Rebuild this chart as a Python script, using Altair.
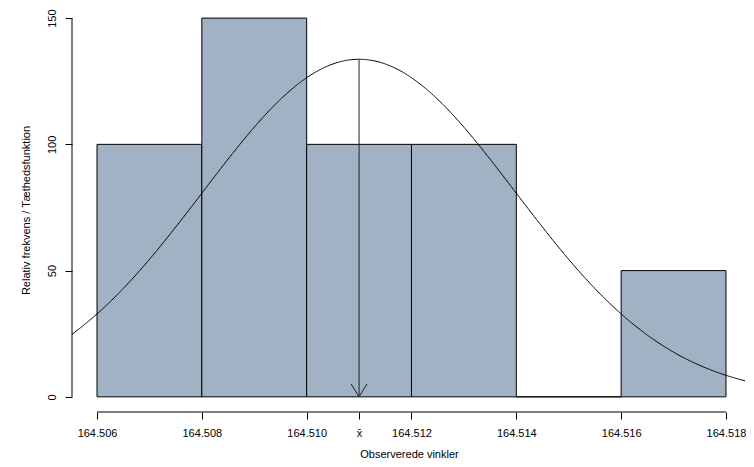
import math
import altair as alt
import pandas as pd

# Histogram (relative frequency density)
bin_lo = [164.506, 164.508, 164.510, 164.512, 164.514, 164.516]
bin_hi = [164.508, 164.510, 164.512, 164.514, 164.516, 164.518]
heights = [100, 150, 100, 100, 0, 50]

# Normal density parameters
mean_val = 164.511
sd_val = 0.002984
peak_val = 1.0 / (sd_val * math.sqrt(2 * math.pi))

x_ticks = [164.506, 164.508, 164.510, 164.512, 164.514, 164.516, 164.518, mean_val]
y_ticks = [0, 50, 100, 150]

FONT = "Liberation Sans"

bars = pd.DataFrame({"lo": bin_lo, "hi": bin_hi, "h": heights})
arrow = pd.DataFrame({"m": [mean_val], "peak": [peak_val], "zero": [0]})
xline = pd.DataFrame({"a": [164.506], "b": [164.518]})
yline = pd.DataFrame({"a": [0], "b": [150]})

X_MIN = 164.505523
X_MAX = 164.518382
xscale = alt.Scale(domain=[X_MIN, X_MAX], nice=False, zero=False)
yscale = alt.Scale(domain=[-6, 154], nice=False, zero=False)

label_expr = ("abs(datum.value - %r) < 1e-7 ? 'x\u0304' : format(datum.value, '.3f')" % mean_val)

xaxis = alt.Axis(values=x_ticks, labelExpr=label_expr, title="Observerede vinkler",
                 domain=False, grid=False, tickSize=7, tickColor="black",
                 labelPadding=8, labelOverlap=False, labelFlush=False, labelBound=False,
                 titlePadding=10)
yaxis = alt.Axis(values=y_ticks, title="Relativ frekvens / Tæthedsfunktion",
                 domain=False, grid=False, tickSize=7, tickColor="black",
                 labelAngle=270, labelAlign="center", labelBaseline="bottom",
                 labelPadding=8, labelOverlap=False, titlePadding=15)

rects = alt.Chart(bars).mark_rect(fill="#a0b2c3", stroke="black", strokeWidth=1).encode(
    x=alt.X("lo:Q", scale=xscale, axis=xaxis),
    x2="hi:Q",
    y=alt.Y("h:Q", scale=yscale, axis=yaxis),
    y2=alt.datum(0),
)

curve = alt.Chart(alt.sequence(X_MIN, X_MAX, 0.00002, as_="x")).transform_calculate(
    d="exp(-0.5*pow((datum.x - %r)/%r, 2)) / (%r * sqrt(2*PI))" % (mean_val, sd_val, sd_val)
).mark_line(color="black", strokeWidth=1, clip=True).encode(
    x=alt.X("x:Q", scale=xscale),
    y=alt.Y("d:Q", scale=yscale),
)

stem = alt.Chart(arrow).mark_rule(color="#222222", strokeWidth=1).encode(
    x=alt.X("m:Q", scale=xscale),
    y=alt.Y("peak:Q", scale=yscale),
    y2="zero:Q",
)

head = alt.Chart(arrow).mark_point(
    shape="M -1 -1.625 L 0 0 L 1 -1.625", filled=False, fill="transparent",
    stroke="#222222", strokeWidth=1, size=256, opacity=1
).encode(
    x=alt.X("m:Q", scale=xscale),
    y=alt.Y("zero:Q", scale=yscale),
)

xdom = alt.Chart(xline).mark_rule(color="black", strokeWidth=1).encode(
    x=alt.X("a:Q", scale=xscale), x2="b:Q", y=alt.value(404)
)
ydom = alt.Chart(yline).mark_rule(color="black", strokeWidth=1).encode(
    y=alt.Y("a:Q", scale=yscale), y2="b:Q", x=alt.value(0)
)

chart = alt.layer(rects, curve, stem, head, xdom, ydom).properties(
    width=674, height=404,
    background="white",
    autosize=alt.AutoSizeParams(type="none"),
    padding={"left": 64, "top": 0, "right": 0, "bottom": 47},
).configure_view(stroke=None).configure_axis(
    labelFont=FONT, labelFontSize=11, labelColor="black",
    titleFont=FONT, titleFontSize=11, titleFontWeight="normal", titleColor="black",
)

chart.save("out.html", embed_options={"renderer": "svg", "actions": False})
